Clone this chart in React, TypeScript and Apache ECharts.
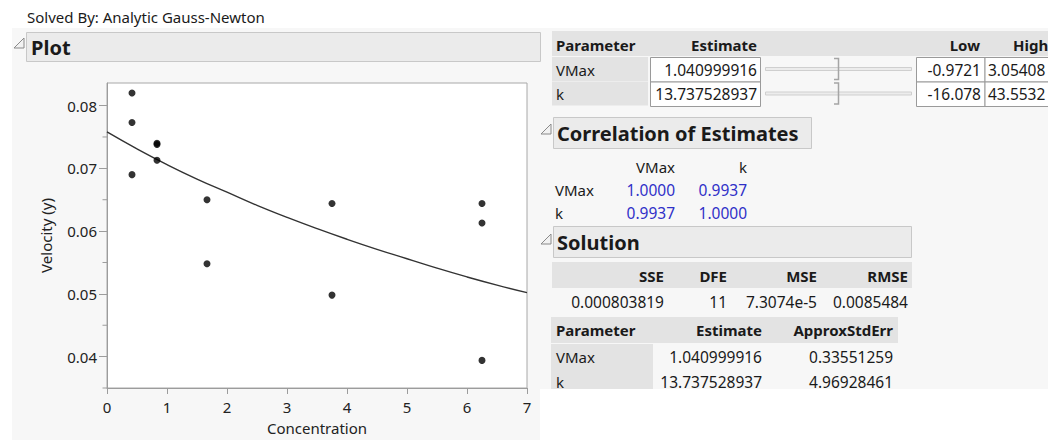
import React, { useEffect, useRef } from "react";
import * as echarts from "echarts";

// ---- data ----
const concentration = [0.4167, 0.4167, 0.4167, 0.8333, 0.8333, 0.8333, 1.6667, 1.6667, 3.75, 3.75, 6.25, 6.25, 6.25];
const velocity = [0.082, 0.0773, 0.069, 0.074, 0.0738, 0.0713, 0.065, 0.0548, 0.0644, 0.0498, 0.0644, 0.0613, 0.0394];

const fitX = [0, 0.5, 1, 1.5, 2, 2.5, 3, 3.5, 4, 4.5, 5, 5.5, 6, 6.5, 7];
const fitY = [0.0758, 0.0731, 0.0706, 0.0683, 0.0662, 0.0641, 0.0622, 0.0604, 0.0587, 0.0571, 0.0556, 0.0541, 0.0527, 0.0514, 0.0502];

const yMajorTicks = [0.04, 0.05, 0.06, 0.07, 0.08];
const yMinorTicks = [0.035, 0.045, 0.055, 0.065, 0.075];

const paramNames = ["VMax", "k"];
const estimates = ["1.040999916", "13.737528937"];
const lows = ["-0.9721", "-16.078"];
const highs = ["3.05408", "43.5532"];
const stdErrs = ["0.33551259", "4.96928461"];
const corrMatrix = [
  ["1.0000", "0.9937"],
  ["0.9937", "1.0000"],
];
const solutionHeaders = ["SSE", "DFE", "MSE", "RMSE"];
const solutionValues = ["0.000803819", "11", "7.3074e-5", "0.0085484"];

const FONT = '"Noto Sans", "Segoe UI", sans-serif';
const DARK = "#1a1a1a";
const BLUE = "#3030c8";
const AXIS = "#9c9c9c";

function txt(x: number, y: number, text: string, o: any = {}) {
  return {
    type: "text",
    x,
    y,
    z: 10,
    style: {
      text,
      fill: o.fill || DARK,
      fontSize: o.size || 15,
      fontFamily: FONT,
      fontWeight: o.bold ? "bold" : "normal",
      align: o.align || "left",
      verticalAlign: "middle",
    },
  };
}
function box(x: number, y: number, w: number, h: number, fill: string, stroke?: string, z = 5) {
  return {
    type: "rect",
    z,
    shape: { x, y, width: w, height: h },
    style: { fill, stroke: stroke || "none", lineWidth: 1 },
  };
}
function tri(x: number, y: number) {
  return {
    type: "polygon",
    z: 10,
    shape: { points: [[x + 10, y], [x + 10, y + 10], [x, y + 10]] },
    style: { fill: "#f2f2f2", stroke: "#8a8a8a", lineWidth: 1 },
  };
}

export default function App() {
  const ref = useRef<HTMLDivElement>(null);
  useEffect(() => {
    if (!ref.current) return;
    const chart = echarts.init(ref.current, undefined, { renderer: "svg" });

    const g: any[] = [];
    // backgrounds
    g.push({ ...box(12, 28, 1036, 361, "#f7f7f7"), z: -1 });
    g.push({ ...box(12, 389, 528, 51, "#f7f7f7"), z: -1 });
    // header text
    g.push(txt(27, 17, "Solved By: Analytic Gauss-Newton"));
    // Plot outline bar
    g.push(tri(14, 38));
    g.push(box(26.5, 32.5, 514, 29, "#ebebeb", "#c8c8c8"));
    g.push(txt(31, 47, "Plot", { bold: true, size: 20 }));

    // Table 1: parameters
    g.push(box(552, 31, 496, 25, "#e3e3e3"));
    g.push(txt(556, 45, "Parameter", { bold: true }));
    g.push(txt(757, 45, "Estimate", { bold: true, align: "right" }));
    g.push(txt(980, 45, "Low", { bold: true, align: "right" }));
    g.push(txt(1013, 45, "High", { bold: true }));
    paramNames.forEach((p, i) => {
      const y0 = 57 + i * 24.5;
      const yc = y0 + 12.5;
      g.push(box(552, y0, 96, 24, "#e3e3e3"));
      g.push(txt(556, yc, p));
      g.push(box(650.5, y0 + 0.5, 110, 24.5, "#ffffff", "#9a9a9a", 6));
      g.push(txt(757, yc, estimates[i], { align: "right", size: 15.5 }));
      g.push(box(765.5, y0 + 10.5, 146, 3, "#ececec", "#cfcfcf", 6));
      g.push({
        type: "polyline",
        z: 7,
        shape: { points: [[834, y0 + 1.5], [838.5, y0 + 1.5], [838.5, y0 + 22.5], [834, y0 + 22.5]] },
        style: { stroke: "#a5a5a5", lineWidth: 1.5, fill: "none" },
      });
      g.push(box(916.5, y0 + 0.5, 68.5, 24.5, "#ffffff", "#9a9a9a", 6));
      g.push(txt(981, yc, lows[i], { align: "right", size: 15.5 }));
      g.push(box(985, y0 + 0.5, 70, 24.5, "#ffffff", "#9a9a9a", 6));
      g.push(txt(988, yc, highs[i], { size: 15.5 }));
    });

    // Correlation of Estimates
    g.push(tri(541, 124));
    g.push(box(553.5, 117.5, 258, 31, "#ebebeb", "#c8c8c8"));
    g.push(txt(557, 133, "Correlation of Estimates", { bold: true, size: 20 }));
    g.push(txt(675, 167, paramNames[0], { align: "right" }));
    g.push(txt(747, 167, paramNames[1], { align: "right" }));
    paramNames.forEach((p, i) => {
      const yc = 190 + i * 23;
      g.push(txt(555, yc, p));
      g.push(txt(675, yc, corrMatrix[i][0], { align: "right", fill: BLUE, size: 15.5 }));
      g.push(txt(747, yc, corrMatrix[i][1], { align: "right", fill: BLUE, size: 15.5 }));
    });

    // Solution
    g.push(tri(541, 234));
    g.push(box(553.5, 226.5, 358, 31, "#ebebeb", "#c8c8c8"));
    g.push(txt(557, 242, "Solution", { bold: true, size: 20 }));
    g.push(box(552, 262, 360, 26, "#e3e3e3"));
    const solX = [664, 727, 817, 908];
    solutionHeaders.forEach((h, i) => g.push(txt(solX[i], 276, h, { bold: true, align: "right" })));
    solutionValues.forEach((v, i) => g.push(txt(solX[i], 302, v, { align: "right", size: 15.5 })));

    // Table 3
    g.push(box(551, 317, 347, 26, "#e3e3e3"));
    g.push(txt(556, 330, "Parameter", { bold: true }));
    g.push(txt(762, 330, "Estimate", { bold: true, align: "right" }));
    g.push(txt(893, 330, "ApproxStdErr", { bold: true, align: "right" }));
    g.push(box(551, 344, 102, 45, "#e3e3e3"));
    paramNames.forEach((p, i) => {
      const yc = 357 + i * 24.5;
      g.push(txt(556, yc, p));
      g.push(txt(762, yc, estimates[i], { align: "right", size: 15.5 }));
      g.push(txt(893, yc, stdErrs[i], { align: "right", size: 15.5 }));
    });
    // clip bottom of right panel
    g.push(box(540, 389, 508, 51, "#ffffff", undefined, 20));

    const labelStyle = { color: "#222", fontSize: 15, fontFamily: FONT };

    chart.setOption({
      animation: false,
      backgroundColor: "#ffffff",
      grid: {
        left: 107,
        right: 521,
        top: 83,
        bottom: 51,
        show: true,
        backgroundColor: "#ffffff",
        borderColor: "#a8a8a8",
        borderWidth: 1,
        containLabel: false,
      },
      xAxis: {
        type: "value",
        min: 0,
        max: 7,
        interval: 1,
        name: "Concentration",
        nameLocation: "middle",
        nameGap: 32,
        nameTextStyle: { ...labelStyle },
        axisLine: { show: true, lineStyle: { color: AXIS } },
        axisTick: { show: true, length: 6, lineStyle: { color: AXIS } },
        axisLabel: { ...labelStyle, margin: 11 },
        splitLine: { show: false },
      },
      yAxis: {
        type: "value",
        min: 0.035,
        max: 0.0836,
        name: "Velocity (y)",
        nameLocation: "middle",
        nameGap: 54,
        nameTextStyle: { ...labelStyle },
        axisLine: { show: true, lineStyle: { color: AXIS } },
        axisTick: { show: true, length: 8, customValues: yMajorTicks, lineStyle: { color: AXIS } },
        axisLabel: {
          ...labelStyle,
          margin: 10,
          customValues: yMajorTicks,
          formatter: (v: number) => v.toFixed(2),
        },
        splitLine: { show: false },
      },
      series: [
        {
          type: "line",
          data: fitX.map((x, i) => [x, fitY[i]]),
          smooth: true,
          showSymbol: false,
          lineStyle: { color: "#333333", width: 1.4 },
          silent: true,
          z: 2,
        },
        {
          type: "scatter",
          data: concentration.map((x, i) => [x, velocity[i]]),
          symbolSize: 7,
          itemStyle: { color: "#000000" },
          z: 3,
        },
        {
          // minor y ticks, placed through the y axis scale
          type: "custom",
          silent: true,
          clip: false,
          data: yMinorTicks.map((v) => [0, v]),
          renderItem: (params: any, api: any) => {
            const p = api.coord([0, api.value(1)]);
            return {
              type: "line",
              shape: { x1: p[0] - 4.5, y1: p[1], x2: p[0], y2: p[1] },
              style: { stroke: AXIS, lineWidth: 1 },
            };
          },
          z: 1,
        },
      ],
      graphic: g,
    });
    return () => chart.dispose();
  }, []);
  return (
    <div
      ref={ref}
      style={{ position: "fixed", left: 0, top: 0, width: 1048, height: 440 }}
    />
  );
}
